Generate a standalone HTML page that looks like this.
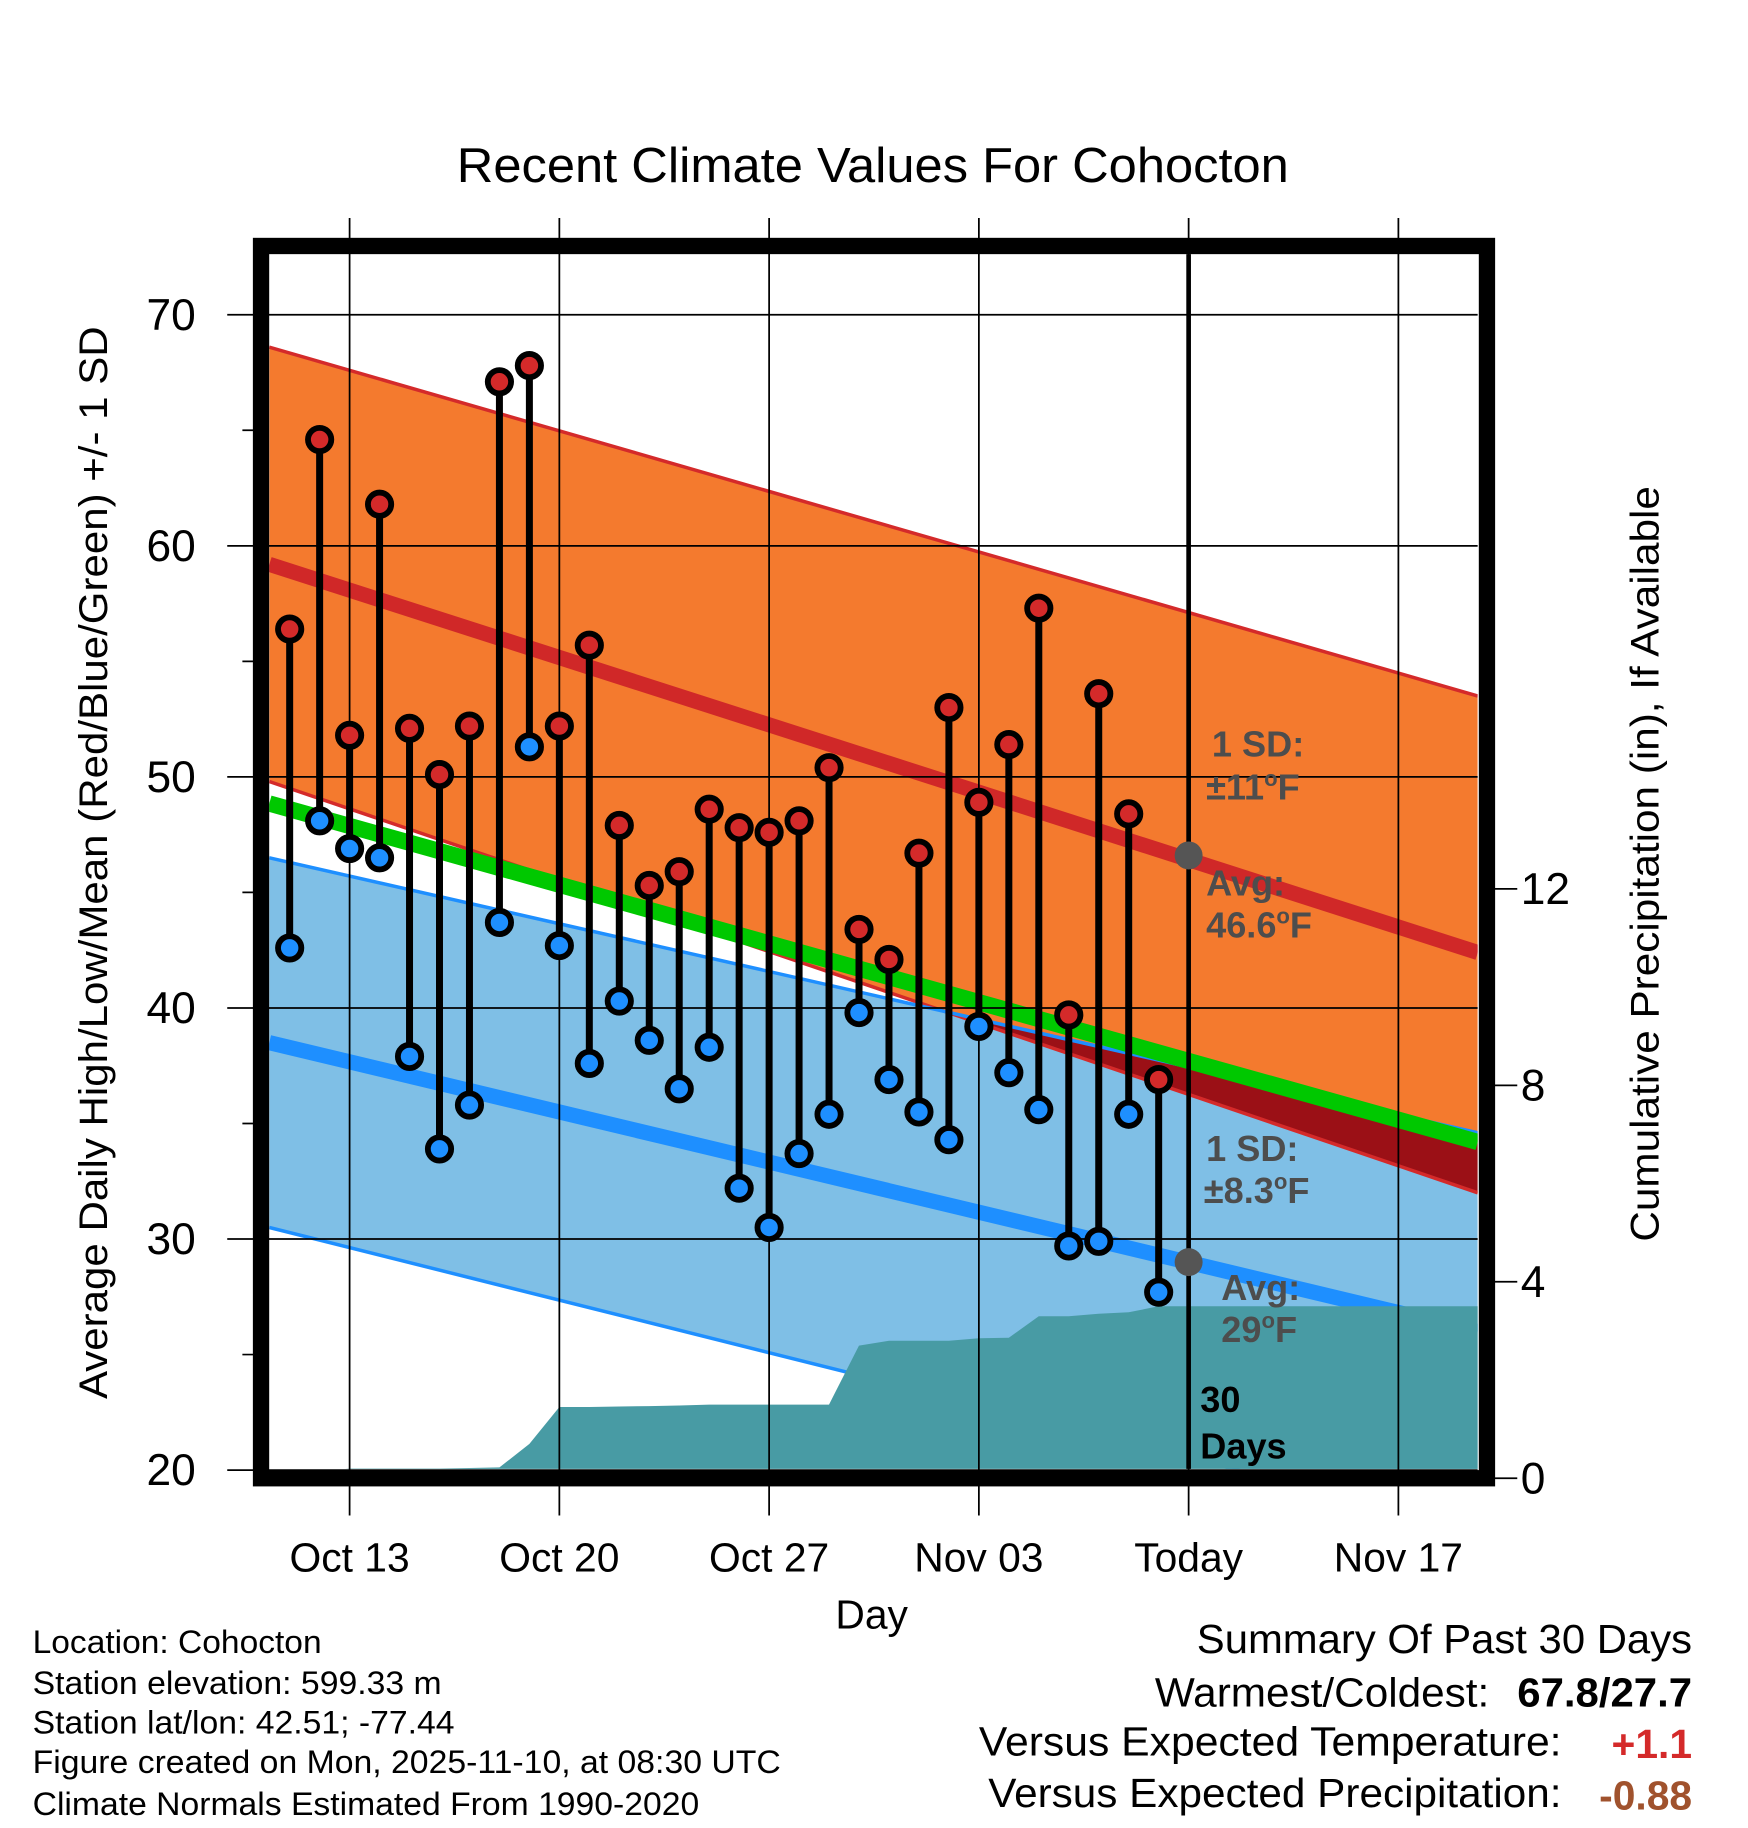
<!DOCTYPE html>
<html><head><meta charset="utf-8"><style>
html,body{margin:0;padding:0;background:#fff;}
svg{display:block;font-family:"Liberation Sans",Arial,sans-serif;}
</style></head><body>
<svg id="chart" width="1748" height="1828" viewBox="0 0 1500 1568" preserveAspectRatio="none" xmlns="http://www.w3.org/2000/svg">
<defs><clipPath id="plotClip"><rect x="231" y="218" width="1037" height="1042"/></clipPath></defs>
<text x="392" y="156" font-size="42" textLength="714" lengthAdjust="spacingAndGlyphs">Recent Climate Values For Cohocton</text>
<g id="plot" clip-path="url(#plotClip)"></g>
<g id="grid"></g>
<g id="marks"></g>
<rect x="224" y="211" width="1052" height="1057" fill="none" stroke="#000" stroke-width="14"/>
<g id="axes"></g>
<text transform="translate(92,1200) rotate(-90)" font-size="34" textLength="920" lengthAdjust="spacingAndGlyphs">Average Daily High/Low/Mean (Red/Blue/Green) +/- 1 SD</text>
<text transform="translate(1423,1065) rotate(-90)" font-size="34" textLength="648" lengthAdjust="spacingAndGlyphs">Cumulative Precipitation (in), If Available</text>
<text x="748" y="1397" font-size="35" text-anchor="middle">Day</text>
<g font-size="31" font-weight="bold" fill="#4d4d4d">
<text x="1040" y="649">1 SD:</text>
<text x="1035" y="686">±11<tspan font-size="19" dy="-12">o</tspan><tspan dy="12">F</tspan></text>
<text x="1035" y="768">Avg:</text>
<text x="1035" y="804">46.6<tspan font-size="19" dy="-12">o</tspan><tspan dy="12">F</tspan></text>
<text x="1035" y="996">1 SD:</text>
<text x="1033" y="1032">±8.3<tspan font-size="19" dy="-12">o</tspan><tspan dy="12">F</tspan></text>
<text x="1048" y="1115">Avg:</text>
<text x="1048" y="1151">29<tspan font-size="19" dy="-12">o</tspan><tspan dy="12">F</tspan></text>
<text x="1030" y="1211" fill="#000">30</text>
<text x="1030" y="1251" fill="#000">Days</text>
</g>
<g font-size="28">
<text x="28" y="1418" textLength="248" lengthAdjust="spacingAndGlyphs">Location: Cohocton</text>
<text x="28" y="1453" textLength="351" lengthAdjust="spacingAndGlyphs">Station elevation: 599.33 m</text>
<text x="28" y="1487" textLength="362" lengthAdjust="spacingAndGlyphs">Station lat/lon: 42.51; -77.44</text>
<text x="28" y="1521" textLength="642" lengthAdjust="spacingAndGlyphs">Figure created on Mon, 2025-11-10, at 08:30 UTC</text>
<text x="28" y="1557" textLength="572" lengthAdjust="spacingAndGlyphs">Climate Normals Estimated From 1990-2020</text>
</g>
<g font-size="35">
<text x="1027" y="1418" textLength="425" lengthAdjust="spacingAndGlyphs">Summary Of Past 30 Days</text>
<text x="991" y="1464" textLength="287" lengthAdjust="spacingAndGlyphs">Warmest/Coldest:</text>
<text x="1302" y="1464" font-weight="bold" textLength="150" lengthAdjust="spacingAndGlyphs">67.8/27.7</text>
<text x="840" y="1506" textLength="500" lengthAdjust="spacingAndGlyphs">Versus Expected Temperature:</text>
<text x="1452" y="1508" text-anchor="end" font-weight="bold" fill="#d42a2a">+1.1</text>
<text x="848" y="1550" textLength="492" lengthAdjust="spacingAndGlyphs">Versus Expected Precipitation:</text>
<text x="1452" y="1552" text-anchor="end" font-weight="bold" fill="#a0522d">-0.88</text>
</g>
</svg>
<script>
// day numbers: day of October (Nov 1 = 32)
const days = [11,12,13,14,15,16,17,18,19,20,21,22,23,24,25,26,27,28,29,30,31,32,33,34,35,36,37,38,39,40];
const highs = [56.4,64.6,51.8,61.8,52.1,50.1,52.2,67.1,67.8,52.2,55.7,47.9,45.3,45.9,48.6,47.8,47.6,48.1,50.4,43.4,42.1,46.7,53.0,48.9,51.4,57.3,39.7,53.6,48.4,36.9];
const lows = [42.6,48.1,46.9,46.5,37.9,33.9,35.8,43.7,51.3,42.7,37.6,40.3,38.6,36.5,38.3,32.2,30.5,33.7,35.4,39.8,36.9,35.5,34.3,39.2,37.2,35.6,29.7,29.9,35.4,27.7];
const precipDays = [10,11,12,13,14,15,16,17,18,19,20,21,22,23,24,25,26,27,28,29,30,31,32,33,34,35,36,37,38,39,40,41,51];
const precipCum = [0.05,0.07,0.12,0.2,0.2,0.2,0.2,0.21,0.22,0.7,1.45,1.45,1.46,1.47,1.48,1.5,1.5,1.5,1.5,1.5,2.7,2.8,2.8,2.8,2.85,2.86,3.3,3.3,3.35,3.38,3.5,3.5,3.5];
const edgeDays = [10.32, 50.65];
const highAvg = [59.2, 42.4];
const highSDUp = [9.4, 11.1];
const highSDDown = [9.4, 10.4];
const lowAvg = [38.5, 26.0];
const lowSD = [8.0, 8.6];
const xTickDays = [13,20,27,34,41,48];
const xTickLabels = ["Oct 13","Oct 20","Oct 27","Nov 03","Today","Nov 17"];
const yTicks = [20,30,40,50,60,70];
const yMinor = [25,35,45,55,65];
const y2Ticks = [0,4,8,12];
const todayDay = 41;

const X = d => 300 + (d-13)*25.714;
const Y = v => 1261 - (v-20)*19.82;
const Y2 = p => 1268 - p*42.13;
const NS = "http://www.w3.org/2000/svg";
function mk(tag, attrs, parent){const e=document.createElementNS(NS,tag);for(const k in attrs)e.setAttribute(k,attrs[k]);parent.appendChild(e);return e;}
const plot=document.getElementById('plot'), grid=document.getElementById('grid'), marks=document.getElementById('marks'), axes=document.getElementById('axes');
const pts=(a)=>a.map(p=>p[0].toFixed(1)+','+p[1].toFixed(1)).join(' ');
const band=(top,bot)=>pts([[X(edgeDays[0]),Y(top[0])],[X(edgeDays[1]),Y(top[1])],[X(edgeDays[1]),Y(bot[1])],[X(edgeDays[0]),Y(bot[0])]]);
const hTop=highAvg.map((v,i)=>v+highSDUp[i]), hBot=highAvg.map((v,i)=>v-highSDDown[i]);
const lTop=lowAvg.map((v,i)=>v+lowSD[i]), lBot=lowAvg.map((v,i)=>v-lowSD[i]);
const mean=highAvg.map((v,i)=>(v+lowAvg[i])/2);

let e=mk('polygon',{points:band(lTop,lBot),fill:'#7fbfe6'},plot);


e=mk('polygon',{points:band(hTop,hBot),fill:'#f47a2e'},plot);


const cp=document.createElementNS(NS,'clipPath');cp.setAttribute('id','lowClip');mk('polygon',{points:band(lTop,lBot)},cp);plot.appendChild(cp);
e=mk('polygon',{points:band(hTop,hBot),fill:'#9b1016','clip-path':'url(#lowClip)'},plot);


function line(vals,color,w,name){const l=mk('line',{x1:X(edgeDays[0]),y1:Y(vals[0]),x2:X(edgeDays[1]),y2:Y(vals[1]),stroke:color,'stroke-width':w},plot);

}
line(hTop,'#d42a2a',3,'high-sd-top');line(hBot,'#d42a2a',3,'high-sd-bottom');
line(lTop,'#1e8fff',3,'low-sd-top');line(lBot,'#1e8fff',3,'low-sd-bottom');
line(highAvg,'#d02828',13,'high-average-line');line(lowAvg,'#1e8fff',13,'low-average-line');line(mean,'#00c800',14,'mean-line');
const pp=precipDays.map((d,i)=>[X(d),Y2(precipCum[i])]);pp.push([X(51),Y2(0)],[X(10),Y2(0)]);
e=mk('polygon',{points:pts(pp),fill:'#489ba4'},plot);



xTickDays.forEach((d,i)=>{
 const g=mk('line',{x1:X(d),y1:187,x2:X(d),y2:1300,stroke:'#000','stroke-width':1.5},grid);
 
 
 const t=mk('text',{x:X(d),y:1348,'font-size':35,'text-anchor':'middle'},axes);t.textContent=xTickLabels[i];
 
 
});
yTicks.forEach(v=>{
 const g=mk('line',{x1:195,y1:Y(v),x2:1268,y2:Y(v),stroke:'#000','stroke-width':1.5},grid);
 
 
 const t=mk('text',{x:168,y:Y(v)+13,'font-size':38,'text-anchor':'end'},axes);t.textContent=v;
 
 
});
yMinor.forEach(v=>{const m=mk('line',{x1:208,y1:Y(v),x2:224,y2:Y(v),stroke:'#000','stroke-width':1.5},axes);
 
 });
y2Ticks.forEach(p=>{
 const m=mk('line',{x1:1276,y1:Y2(p),x2:1302,y2:Y2(p),stroke:'#000','stroke-width':1.5},axes);
 
 
 const t=mk('text',{x:1305,y:Y2(p)+13,'font-size':38},axes);t.textContent=p;
 
 
});
e=mk('line',{x1:X(todayDay),y1:218,x2:X(todayDay),y2:1260,stroke:'#000','stroke-width':4},marks);


e=mk('circle',{cx:X(todayDay),cy:Y(46.6),r:12,fill:'#555'},marks);


e=mk('circle',{cx:X(todayDay),cy:Y(29),r:12,fill:'#555'},marks);


days.forEach((d,i)=>{
 const s=mk('line',{x1:X(d),y1:Y(highs[i]),x2:X(d),y2:Y(lows[i]),stroke:'#000','stroke-width':6},marks);
 
 
 const h=mk('circle',{cx:X(d),cy:Y(highs[i]),r:10,fill:'#d42a2a',stroke:'#000','stroke-width':5},marks);
 
 
 const l=mk('circle',{cx:X(d),cy:Y(lows[i]),r:10,fill:'#1e8fff',stroke:'#000','stroke-width':5},marks);
 
 
});
</script>
</body></html>
